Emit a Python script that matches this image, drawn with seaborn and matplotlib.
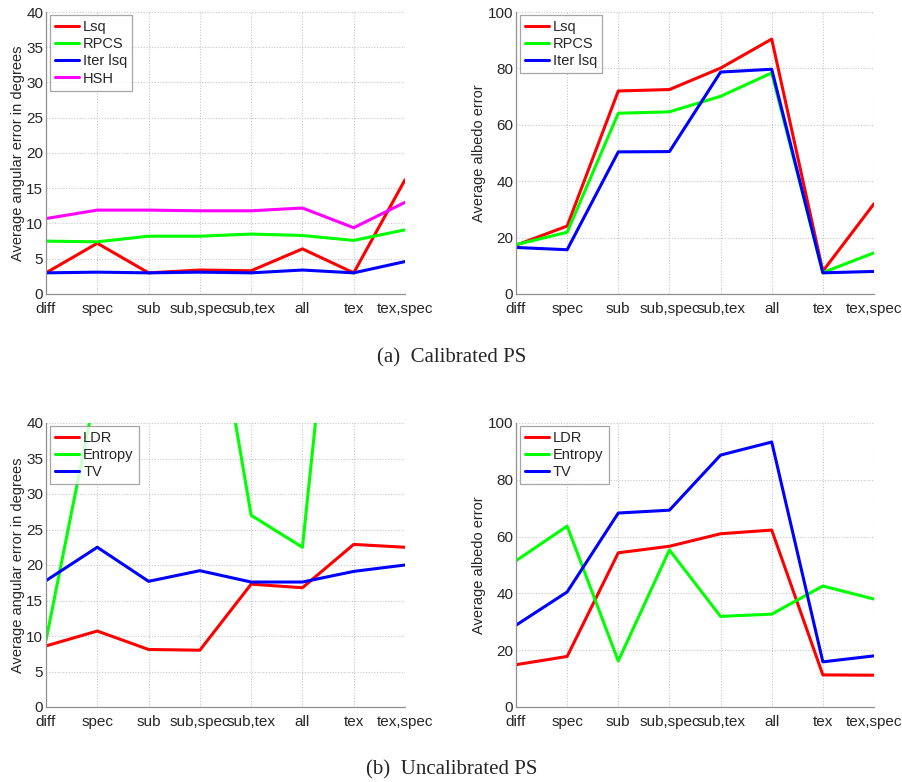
import matplotlib
matplotlib.use("Agg")
import matplotlib.pyplot as plt
import seaborn as sns
import pandas as pd

sns.set_style("white")
plt.rcParams["font.family"] = ["Liberation Sans", "DejaVu Sans"]

categories = ["diff", "spec", "sub", "sub,spec", "sub,tex", "all", "tex", "tex,spec"]

# (a) Calibrated PS - angular error
cal_ang_lsq = [3.0, 7.2, 3.0, 3.4, 3.3, 6.4, 3.0, 16.2]
cal_ang_rpcs = [7.5, 7.4, 8.2, 8.2, 8.5, 8.3, 7.6, 9.1]
cal_ang_iter = [3.0, 3.1, 3.0, 3.1, 3.0, 3.4, 3.0, 4.6]
cal_ang_hsh = [10.7, 11.9, 11.9, 11.8, 11.8, 12.2, 9.4, 13.0]

# (a) Calibrated PS - albedo error
cal_alb_lsq = [17.3, 24.1, 72.0, 72.5, 80.1, 90.4, 8.1, 32.0]
cal_alb_rpcs = [17.5, 21.9, 64.1, 64.6, 70.1, 78.4, 7.6, 14.6]
cal_alb_iter = [16.5, 15.7, 50.4, 50.5, 78.7, 79.7, 7.5, 8.0]

# (b) Uncalibrated PS - angular error
unc_ang_ldr = [8.6, 10.7, 8.1, 8.0, 17.3, 16.8, 22.9, 22.5]
unc_ang_entropy = [9.4, 45.6, 60.0, 69.6, 27.0, 22.5, 91.6, 80.0]
unc_ang_tv = [17.8, 22.5, 17.7, 19.2, 17.6, 17.6, 19.1, 20.0]

# (b) Uncalibrated PS - albedo error
unc_alb_ldr = [14.9, 17.8, 54.3, 56.6, 61.0, 62.3, 11.3, 11.2]
unc_alb_entropy = [51.5, 63.7, 16.2, 55.3, 31.9, 32.7, 42.6, 38.0]
unc_alb_tv = [28.8, 40.5, 68.3, 69.3, 88.7, 93.3, 15.9, 18.0]

colors = {"red": "#ff0000", "green": "#00ff00", "blue": "#0000ff", "magenta": "#ff00ff"}

panels = [
    # axes rect (px: left, top, right, bottom), series, ylim, yticks, ylabel
    ((46, 12, 405, 294),
     [("Lsq", cal_ang_lsq, "red"), ("RPCS", cal_ang_rpcs, "green"),
      ("Iter lsq", cal_ang_iter, "blue"), ("HSH", cal_ang_hsh, "magenta")],
     (0, 40), range(0, 41, 5), "Average angular error in degrees"),
    ((516, 12, 874, 294),
     [("Lsq", cal_alb_lsq, "red"), ("RPCS", cal_alb_rpcs, "green"),
      ("Iter lsq", cal_alb_iter, "blue")],
     (0, 100), range(0, 101, 20), "Average albedo error"),
    ((46, 423, 405, 707),
     [("LDR", unc_ang_ldr, "red"), ("Entropy", unc_ang_entropy, "green"),
      ("TV", unc_ang_tv, "blue")],
     (0, 40), range(0, 41, 5), "Average angular error in degrees"),
    ((516, 423, 874, 707),
     [("LDR", unc_alb_ldr, "red"), ("Entropy", unc_alb_entropy, "green"),
      ("TV", unc_alb_tv, "blue")],
     (0, 100), range(0, 101, 20), "Average albedo error"),
]

W, H = 903, 782
fig = plt.figure(figsize=(W / 100, H / 100), dpi=100)

for (l, t, r, b), series, ylim, yticks, ylabel in panels:
    ax = fig.add_axes([l / W, 1 - b / H, (r - l) / W, (b - t) / H])
    rows = []
    for name, vals, _ in series:
        for i, v in enumerate(vals):
            rows.append({"pos": i, "value": v, "method": name})
    df = pd.DataFrame(rows)
    palette = {name: colors[c] for name, _, c in series}
    sns.lineplot(data=df, x="pos", y="value", hue="method", hue_order=[s[0] for s in series],
                 palette=palette, linewidth=2.2, ax=ax, legend=True)
    ax.set_xlim(0, len(categories) - 1)
    ax.set_ylim(*ylim)
    ax.set_xticks(range(len(categories)))
    ax.set_xticklabels(categories)
    ax.set_yticks(list(yticks))
    ax.set_xlabel("")
    ax.set_ylabel(ylabel, fontsize=10.5, labelpad=1)
    ax.grid(True, color="#c8c8c8", linestyle=(0, (1, 1.5)), linewidth=0.8)
    ax.set_axisbelow(True)
    for side in ("top", "right"):
        ax.spines[side].set_visible(False)
    for side in ("left", "bottom"):
        ax.spines[side].set_color("#909090")
        ax.spines[side].set_linewidth(0.9)
    ax.tick_params(axis="x", direction="in", length=4, color="#909090",
                   labelsize=11, pad=6)
    ax.tick_params(axis="y", direction="in", length=0, labelsize=11, pad=2)
    leg = ax.legend(loc="upper left", bbox_to_anchor=(0.01, 0.99), frameon=True,
                    fancybox=False, edgecolor="#909090", fontsize=10.5,
                    handlelength=1.7, handletextpad=0.25, borderpad=0.35,
                    labelspacing=0.22, borderaxespad=0)
    leg.get_frame().set_linewidth(0.9)

fig.text(0.5, 1 - 358 / H, "(a)  Calibrated PS", ha="center", va="center",
         fontsize=15, family=["Liberation Serif", "DejaVu Serif"])
fig.text(0.5, 1 - 770 / H, "(b)  Uncalibrated PS", ha="center", va="center",
         fontsize=15, family=["Liberation Serif", "DejaVu Serif"])

fig.savefig("out.png", dpi=100)
